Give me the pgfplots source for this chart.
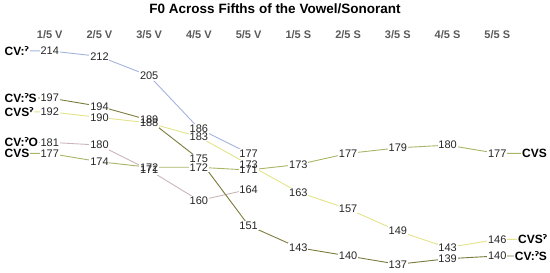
\documentclass[border=0pt]{standalone}
\usepackage{pgfplots}
\pgfplotsset{compat=1.18}
\usepackage{fontspec}
\setmainfont{Liberation Sans}
\newfontfamily\dejavu{DejaVu Sans}
\newcommand{\gs}{{\dejavu ˀ}}
\definecolor{cvq}{HTML}{A3B3E0}
\definecolor{cvqs}{HTML}{7B7B3C}
\definecolor{cvsq}{HTML}{E3E38A}
\definecolor{cvqo}{HTML}{CBB5BA}
\definecolor{cvs}{HTML}{A9B465}

% x: 1..5 = vowel fifths, 6..10 = sonorant fifths (0.6 / 10.6 = lead-in to names)
\pgfplotstableread{
x y
0.6 214
1 214
2 212
3 205
4 186
5 177
}\tcvq
\pgfplotstableread{
x y
0.6 197
1 197
2 194
3 189
4 175
5 151
6 143
7 140
8 137
9 139
10 140
10.5 140
}\tcvqs
\pgfplotstableread{
x y
0.6 192
1 192
2 190
3 188
4 183
5 173
6 163
7 157
8 149
9 143
10 146
10.5 146
}\tcvsq
\pgfplotstableread{
x y
0.6 181
1 181
2 180
3 171
4 160
5 164
}\tcvqo
\pgfplotstableread{
x y
0.6 177
1 177
2 174
3 172
4 172
5 171
6 173
7 177
8 179
9 180
10 177
10.6 177
}\tcvs

\begin{document}
\begin{tikzpicture}
\begin{axis}[scale only axis,width=550bp,height=231bp,
 xmin=0,xmax=11.06,ymin=133.9,ymax=217.25,
 axis line style={draw=none},tick style={draw=none},major tick length=0pt,
 ytick=\empty,xtick={1,...,10},
 xticklabels={1/5 V,2/5 V,3/5 V,4/5 V,5/5 V,1/5 S,2/5 S,3/5 S,4/5 S,5/5 S},
 xticklabel pos=upper,
 every x tick label/.append style={font=\fontsize{11bp}{13bp}\selectfont\bfseries,text=black!65},
 title={F0 Across Fifths of the Vowel/Sonorant},
 title style={font=\fontsize{13.5bp}{15bp}\selectfont\bfseries,yshift=19bp},
 /pgf/number format/assume math mode=true,
 clip=false,
 ln/.style={line width=0.9pt,mark=none},
 lbl/.style={draw=none,mark=none,restrict x to domain=0.9:10.1,
  nodes near coords,point meta=y,
  every node near coord/.style={anchor=center,inner sep=0.8pt,
   font=\fontsize{11bp}{13bp}\selectfont,text=black!85}},
 bg/.style={lbl,every node near coord/.append style={fill=white,text=white}}]
% lines
\addplot[ln,cvq] table {\tcvq};
\addplot[ln,cvqo] table {\tcvqo};
\addplot[ln,cvs] table {\tcvs};
\addplot[ln,cvsq] table {\tcvsq};
\addplot[ln,cvqs] table {\tcvqs};
% label backgrounds, then label text
\addplot[bg] table {\tcvq};
\addplot[bg] table {\tcvqo};
\addplot[bg] table {\tcvs};
\addplot[bg] table {\tcvsq};
\addplot[bg] table {\tcvqs};
\addplot[lbl] table {\tcvq};
\addplot[lbl] table {\tcvqo};
\addplot[lbl] table {\tcvs};
\addplot[lbl] table {\tcvsq};
\addplot[lbl] table {\tcvqs};
% series names
\tikzset{nm/.style={font=\fontsize{12bp}{14bp}\selectfont\bfseries,fill=white,inner sep=1pt}}
\node[nm,anchor=west] at (axis cs:0.07,214) {CV:\gs};
\node[nm,anchor=west] at (axis cs:0.07,197) {CV:\gs S};
\node[nm,anchor=west] at (axis cs:0.07,192) {CVS\gs};
\node[nm,anchor=west] at (axis cs:0.07,181) {CV:\gs O};
\node[nm,anchor=west] at (axis cs:0.07,177) {CVS};
\node[nm,anchor=east] at (axis cs:11.02,177) {CVS};
\node[nm,anchor=east] at (axis cs:11.02,146) {CVS\gs};
\node[nm,anchor=east] at (axis cs:11.02,140) {CV:\gs S};
\end{axis}
\end{tikzpicture}
\end{document}
